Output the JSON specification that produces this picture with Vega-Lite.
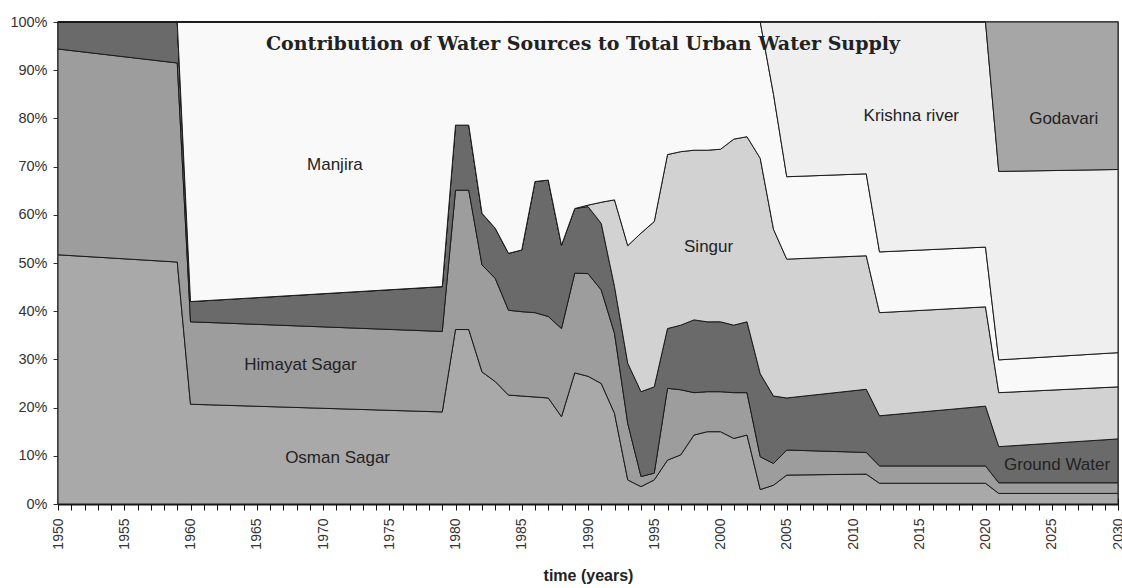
{
"$schema":"https://vega.github.io/schema/vega-lite/v6.json",
"width":1060,"height":482,
"autosize":"none",
"padding":{"left":58,"top":22,"right":4,"bottom":84},
"background":"white",
"view":{"stroke":"#333","strokeWidth":1.5},
"title":{"text":"Contribution of Water Sources to Total Urban Water Supply","font":"DejaVu Serif","fontSize":19,"fontWeight":"bold","color":"#222","anchor":"middle","offset":-40,"dx":-5},
"config":{"axis":{"labelFont":"Liberation Sans","titleFont":"Liberation Sans","grid":false}},
"layer":[
{"data":{"values":[
{"t":1950,"s":"Osman Sagar","k":1,"v":51.7},{"t":1950,"s":"Himayat Sagar","k":2,"v":42.7},{"t":1950,"s":"Ground Water","k":3,"v":5.6},{"t":1950,"s":"Singur","k":4,"v":0},{"t":1950,"s":"Manjira","k":5,"v":0},{"t":1950,"s":"Krishna river","k":6,"v":0},{"t":1950,"s":"Godavari","k":7,"v":0},
{"t":1959,"s":"Osman Sagar","k":1,"v":50.2},{"t":1959,"s":"Himayat Sagar","k":2,"v":41.3},{"t":1959,"s":"Ground Water","k":3,"v":8.5},{"t":1959,"s":"Singur","k":4,"v":0},{"t":1959,"s":"Manjira","k":5,"v":0},{"t":1959,"s":"Krishna river","k":6,"v":0},{"t":1959,"s":"Godavari","k":7,"v":0},
{"t":1960,"s":"Osman Sagar","k":1,"v":20.7},{"t":1960,"s":"Himayat Sagar","k":2,"v":17.1},{"t":1960,"s":"Ground Water","k":3,"v":4.2},{"t":1960,"s":"Singur","k":4,"v":0},{"t":1960,"s":"Manjira","k":5,"v":58.0},{"t":1960,"s":"Krishna river","k":6,"v":0},{"t":1960,"s":"Godavari","k":7,"v":0},
{"t":1979,"s":"Osman Sagar","k":1,"v":19.1},{"t":1979,"s":"Himayat Sagar","k":2,"v":16.7},{"t":1979,"s":"Ground Water","k":3,"v":9.3},{"t":1979,"s":"Singur","k":4,"v":0},{"t":1979,"s":"Manjira","k":5,"v":54.9},{"t":1979,"s":"Krishna river","k":6,"v":0},{"t":1979,"s":"Godavari","k":7,"v":0},
{"t":1980,"s":"Osman Sagar","k":1,"v":36.2},{"t":1980,"s":"Himayat Sagar","k":2,"v":28.9},{"t":1980,"s":"Ground Water","k":3,"v":13.5},{"t":1980,"s":"Singur","k":4,"v":0},{"t":1980,"s":"Manjira","k":5,"v":21.4},{"t":1980,"s":"Krishna river","k":6,"v":0},{"t":1980,"s":"Godavari","k":7,"v":0},
{"t":1981,"s":"Osman Sagar","k":1,"v":36.2},{"t":1981,"s":"Himayat Sagar","k":2,"v":28.9},{"t":1981,"s":"Ground Water","k":3,"v":13.5},{"t":1981,"s":"Singur","k":4,"v":0},{"t":1981,"s":"Manjira","k":5,"v":21.4},{"t":1981,"s":"Krishna river","k":6,"v":0},{"t":1981,"s":"Godavari","k":7,"v":0},
{"t":1982,"s":"Osman Sagar","k":1,"v":27.4},{"t":1982,"s":"Himayat Sagar","k":2,"v":22.2},{"t":1982,"s":"Ground Water","k":3,"v":10.7},{"t":1982,"s":"Singur","k":4,"v":0},{"t":1982,"s":"Manjira","k":5,"v":39.7},{"t":1982,"s":"Krishna river","k":6,"v":0},{"t":1982,"s":"Godavari","k":7,"v":0},
{"t":1983,"s":"Osman Sagar","k":1,"v":25.4},{"t":1983,"s":"Himayat Sagar","k":2,"v":21.4},{"t":1983,"s":"Ground Water","k":3,"v":10.4},{"t":1983,"s":"Singur","k":4,"v":0},{"t":1983,"s":"Manjira","k":5,"v":42.8},{"t":1983,"s":"Krishna river","k":6,"v":0},{"t":1983,"s":"Godavari","k":7,"v":0},
{"t":1984,"s":"Osman Sagar","k":1,"v":22.6},{"t":1984,"s":"Himayat Sagar","k":2,"v":17.6},{"t":1984,"s":"Ground Water","k":3,"v":11.8},{"t":1984,"s":"Singur","k":4,"v":0},{"t":1984,"s":"Manjira","k":5,"v":48.0},{"t":1984,"s":"Krishna river","k":6,"v":0},{"t":1984,"s":"Godavari","k":7,"v":0},
{"t":1985,"s":"Osman Sagar","k":1,"v":22.4},{"t":1985,"s":"Himayat Sagar","k":2,"v":17.5},{"t":1985,"s":"Ground Water","k":3,"v":12.8},{"t":1985,"s":"Singur","k":4,"v":0},{"t":1985,"s":"Manjira","k":5,"v":47.3},{"t":1985,"s":"Krishna river","k":6,"v":0},{"t":1985,"s":"Godavari","k":7,"v":0},
{"t":1986,"s":"Osman Sagar","k":1,"v":22.2},{"t":1986,"s":"Himayat Sagar","k":2,"v":17.5},{"t":1986,"s":"Ground Water","k":3,"v":27.2},{"t":1986,"s":"Singur","k":4,"v":0},{"t":1986,"s":"Manjira","k":5,"v":33.1},{"t":1986,"s":"Krishna river","k":6,"v":0},{"t":1986,"s":"Godavari","k":7,"v":0},
{"t":1987,"s":"Osman Sagar","k":1,"v":22.0},{"t":1987,"s":"Himayat Sagar","k":2,"v":16.9},{"t":1987,"s":"Ground Water","k":3,"v":28.3},{"t":1987,"s":"Singur","k":4,"v":0},{"t":1987,"s":"Manjira","k":5,"v":32.8},{"t":1987,"s":"Krishna river","k":6,"v":0},{"t":1987,"s":"Godavari","k":7,"v":0},
{"t":1988,"s":"Osman Sagar","k":1,"v":18.1},{"t":1988,"s":"Himayat Sagar","k":2,"v":18.3},{"t":1988,"s":"Ground Water","k":3,"v":17.3},{"t":1988,"s":"Singur","k":4,"v":0},{"t":1988,"s":"Manjira","k":5,"v":46.3},{"t":1988,"s":"Krishna river","k":6,"v":0},{"t":1988,"s":"Godavari","k":7,"v":0},
{"t":1989,"s":"Osman Sagar","k":1,"v":27.2},{"t":1989,"s":"Himayat Sagar","k":2,"v":20.7},{"t":1989,"s":"Ground Water","k":3,"v":13.4},{"t":1989,"s":"Singur","k":4,"v":0},{"t":1989,"s":"Manjira","k":5,"v":38.7},{"t":1989,"s":"Krishna river","k":6,"v":0},{"t":1989,"s":"Godavari","k":7,"v":0},
{"t":1990,"s":"Osman Sagar","k":1,"v":26.5},{"t":1990,"s":"Himayat Sagar","k":2,"v":21.3},{"t":1990,"s":"Ground Water","k":3,"v":13.9},{"t":1990,"s":"Singur","k":4,"v":0.3},{"t":1990,"s":"Manjira","k":5,"v":38.0},{"t":1990,"s":"Krishna river","k":6,"v":0},{"t":1990,"s":"Godavari","k":7,"v":0},
{"t":1991,"s":"Osman Sagar","k":1,"v":25.0},{"t":1991,"s":"Himayat Sagar","k":2,"v":19.4},{"t":1991,"s":"Ground Water","k":3,"v":13.8},{"t":1991,"s":"Singur","k":4,"v":4.4},{"t":1991,"s":"Manjira","k":5,"v":37.4},{"t":1991,"s":"Krishna river","k":6,"v":0},{"t":1991,"s":"Godavari","k":7,"v":0},
{"t":1992,"s":"Osman Sagar","k":1,"v":18.8},{"t":1992,"s":"Himayat Sagar","k":2,"v":16.6},{"t":1992,"s":"Ground Water","k":3,"v":9.7},{"t":1992,"s":"Singur","k":4,"v":18.0},{"t":1992,"s":"Manjira","k":5,"v":36.9},{"t":1992,"s":"Krishna river","k":6,"v":0},{"t":1992,"s":"Godavari","k":7,"v":0},
{"t":1993,"s":"Osman Sagar","k":1,"v":5.0},{"t":1993,"s":"Himayat Sagar","k":2,"v":11.7},{"t":1993,"s":"Ground Water","k":3,"v":12.5},{"t":1993,"s":"Singur","k":4,"v":24.4},{"t":1993,"s":"Manjira","k":5,"v":46.4},{"t":1993,"s":"Krishna river","k":6,"v":0},{"t":1993,"s":"Godavari","k":7,"v":0},
{"t":1994,"s":"Osman Sagar","k":1,"v":3.6},{"t":1994,"s":"Himayat Sagar","k":2,"v":2.1},{"t":1994,"s":"Ground Water","k":3,"v":17.6},{"t":1994,"s":"Singur","k":4,"v":32.9},{"t":1994,"s":"Manjira","k":5,"v":43.8},{"t":1994,"s":"Krishna river","k":6,"v":0},{"t":1994,"s":"Godavari","k":7,"v":0},
{"t":1995,"s":"Osman Sagar","k":1,"v":5.0},{"t":1995,"s":"Himayat Sagar","k":2,"v":1.4},{"t":1995,"s":"Ground Water","k":3,"v":17.9},{"t":1995,"s":"Singur","k":4,"v":34.3},{"t":1995,"s":"Manjira","k":5,"v":41.4},{"t":1995,"s":"Krishna river","k":6,"v":0},{"t":1995,"s":"Godavari","k":7,"v":0},
{"t":1996,"s":"Osman Sagar","k":1,"v":9.1},{"t":1996,"s":"Himayat Sagar","k":2,"v":14.9},{"t":1996,"s":"Ground Water","k":3,"v":12.4},{"t":1996,"s":"Singur","k":4,"v":36.1},{"t":1996,"s":"Manjira","k":5,"v":27.5},{"t":1996,"s":"Krishna river","k":6,"v":0},{"t":1996,"s":"Godavari","k":7,"v":0},
{"t":1997,"s":"Osman Sagar","k":1,"v":10.2},{"t":1997,"s":"Himayat Sagar","k":2,"v":13.5},{"t":1997,"s":"Ground Water","k":3,"v":13.4},{"t":1997,"s":"Singur","k":4,"v":36.0},{"t":1997,"s":"Manjira","k":5,"v":26.9},{"t":1997,"s":"Krishna river","k":6,"v":0},{"t":1997,"s":"Godavari","k":7,"v":0},
{"t":1998,"s":"Osman Sagar","k":1,"v":14.3},{"t":1998,"s":"Himayat Sagar","k":2,"v":8.8},{"t":1998,"s":"Ground Water","k":3,"v":15.1},{"t":1998,"s":"Singur","k":4,"v":35.2},{"t":1998,"s":"Manjira","k":5,"v":26.6},{"t":1998,"s":"Krishna river","k":6,"v":0},{"t":1998,"s":"Godavari","k":7,"v":0},
{"t":1999,"s":"Osman Sagar","k":1,"v":15.0},{"t":1999,"s":"Himayat Sagar","k":2,"v":8.3},{"t":1999,"s":"Ground Water","k":3,"v":14.5},{"t":1999,"s":"Singur","k":4,"v":35.6},{"t":1999,"s":"Manjira","k":5,"v":26.6},{"t":1999,"s":"Krishna river","k":6,"v":0},{"t":1999,"s":"Godavari","k":7,"v":0},
{"t":2000,"s":"Osman Sagar","k":1,"v":15.0},{"t":2000,"s":"Himayat Sagar","k":2,"v":8.3},{"t":2000,"s":"Ground Water","k":3,"v":14.5},{"t":2000,"s":"Singur","k":4,"v":35.8},{"t":2000,"s":"Manjira","k":5,"v":26.4},{"t":2000,"s":"Krishna river","k":6,"v":0},{"t":2000,"s":"Godavari","k":7,"v":0},
{"t":2001,"s":"Osman Sagar","k":1,"v":13.6},{"t":2001,"s":"Himayat Sagar","k":2,"v":9.5},{"t":2001,"s":"Ground Water","k":3,"v":14.0},{"t":2001,"s":"Singur","k":4,"v":38.6},{"t":2001,"s":"Manjira","k":5,"v":24.3},{"t":2001,"s":"Krishna river","k":6,"v":0},{"t":2001,"s":"Godavari","k":7,"v":0},
{"t":2002,"s":"Osman Sagar","k":1,"v":14.3},{"t":2002,"s":"Himayat Sagar","k":2,"v":8.8},{"t":2002,"s":"Ground Water","k":3,"v":14.7},{"t":2002,"s":"Singur","k":4,"v":38.4},{"t":2002,"s":"Manjira","k":5,"v":23.8},{"t":2002,"s":"Krishna river","k":6,"v":0},{"t":2002,"s":"Godavari","k":7,"v":0},
{"t":2003,"s":"Osman Sagar","k":1,"v":3.0},{"t":2003,"s":"Himayat Sagar","k":2,"v":6.8},{"t":2003,"s":"Ground Water","k":3,"v":17.2},{"t":2003,"s":"Singur","k":4,"v":44.7},{"t":2003,"s":"Manjira","k":5,"v":28.3},{"t":2003,"s":"Krishna river","k":6,"v":0},{"t":2003,"s":"Godavari","k":7,"v":0},
{"t":2004,"s":"Osman Sagar","k":1,"v":3.9},{"t":2004,"s":"Himayat Sagar","k":2,"v":4.5},{"t":2004,"s":"Ground Water","k":3,"v":14.0},{"t":2004,"s":"Singur","k":4,"v":34.6},{"t":2004,"s":"Manjira","k":5,"v":28.0},{"t":2004,"s":"Krishna river","k":6,"v":15.0},{"t":2004,"s":"Godavari","k":7,"v":0},
{"t":2005,"s":"Osman Sagar","k":1,"v":6.0},{"t":2005,"s":"Himayat Sagar","k":2,"v":5.2},{"t":2005,"s":"Ground Water","k":3,"v":10.8},{"t":2005,"s":"Singur","k":4,"v":28.8},{"t":2005,"s":"Manjira","k":5,"v":17.1},{"t":2005,"s":"Krishna river","k":6,"v":32.1},{"t":2005,"s":"Godavari","k":7,"v":0},
{"t":2011,"s":"Osman Sagar","k":1,"v":6.2},{"t":2011,"s":"Himayat Sagar","k":2,"v":4.5},{"t":2011,"s":"Ground Water","k":3,"v":13.1},{"t":2011,"s":"Singur","k":4,"v":27.7},{"t":2011,"s":"Manjira","k":5,"v":17.0},{"t":2011,"s":"Krishna river","k":6,"v":31.5},{"t":2011,"s":"Godavari","k":7,"v":0},
{"t":2012,"s":"Osman Sagar","k":1,"v":4.3},{"t":2012,"s":"Himayat Sagar","k":2,"v":3.6},{"t":2012,"s":"Ground Water","k":3,"v":10.4},{"t":2012,"s":"Singur","k":4,"v":21.4},{"t":2012,"s":"Manjira","k":5,"v":12.6},{"t":2012,"s":"Krishna river","k":6,"v":47.7},{"t":2012,"s":"Godavari","k":7,"v":0},
{"t":2020,"s":"Osman Sagar","k":1,"v":4.3},{"t":2020,"s":"Himayat Sagar","k":2,"v":3.6},{"t":2020,"s":"Ground Water","k":3,"v":12.4},{"t":2020,"s":"Singur","k":4,"v":20.6},{"t":2020,"s":"Manjira","k":5,"v":12.4},{"t":2020,"s":"Krishna river","k":6,"v":46.7},{"t":2020,"s":"Godavari","k":7,"v":0},
{"t":2021,"s":"Osman Sagar","k":1,"v":2.2},{"t":2021,"s":"Himayat Sagar","k":2,"v":2.2},{"t":2021,"s":"Ground Water","k":3,"v":7.5},{"t":2021,"s":"Singur","k":4,"v":11.2},{"t":2021,"s":"Manjira","k":5,"v":6.8},{"t":2021,"s":"Krishna river","k":6,"v":39.1},{"t":2021,"s":"Godavari","k":7,"v":31.0},
{"t":2030,"s":"Osman Sagar","k":1,"v":2.2},{"t":2030,"s":"Himayat Sagar","k":2,"v":2.2},{"t":2030,"s":"Ground Water","k":3,"v":9.1},{"t":2030,"s":"Singur","k":4,"v":10.8},{"t":2030,"s":"Manjira","k":5,"v":7.1},{"t":2030,"s":"Krishna river","k":6,"v":38.0},{"t":2030,"s":"Godavari","k":7,"v":30.6}
]},
"mark":{"type":"area","stroke":"#1a1a1a","strokeWidth":1,"strokeJoin":"round"},
"encoding":{
"x":{"field":"t","type":"quantitative","scale":{"domain":[1950,2030],"nice":false,"zero":false},
"axis":{"title":"time (years)","titleFontSize":16,"titleFontWeight":"bold","titleColor":"#222","titlePadding":18,
"values":[1950,1951,1952,1953,1954,1955,1956,1957,1958,1959,1960,1961,1962,1963,1964,1965,1966,1967,1968,1969,1970,1971,1972,1973,1974,1975,1976,1977,1978,1979,1980,1981,1982,1983,1984,1985,1986,1987,1988,1989,1990,1991,1992,1993,1994,1995,1996,1997,1998,1999,2000,2001,2002,2003,2004,2005,2006,2007,2008,2009,2010,2011,2012,2013,2014,2015,2016,2017,2018,2019,2020,2021,2022,2023,2024,2025,2026,2027,2028,2029,2030],
"format":"d","labelExpr":"datum.value % 5 === 0 ? datum.label : ''","labelAngle":270,"labelFontSize":14,"labelColor":"#333","labelPadding":8,"labelOverlap":false,"labelFlush":false,
"tickSize":6,"tickColor":"#111","domainColor":"#111","domainWidth":2}},
"y":{"field":"v","type":"quantitative","stack":"normalize","scale":{"domain":[0,1]},
"axis":{"title":null,"values":[0,0.1,0.2,0.3,0.4,0.5,0.6,0.7,0.8,0.9,1],"format":".0%","labelFontSize":14.5,"labelColor":"#333","labelPadding":6,"tickSize":5,"tickColor":"#333","domain":false}},
"color":{"field":"s","type":"nominal","scale":{"domain":["Osman Sagar","Himayat Sagar","Ground Water","Singur","Manjira","Krishna river","Godavari"],"range":["#a9a9a9","#9d9d9d","#6a6a6a","#d2d2d2","#f9f9f9","#efefef","#a6a6a6"]},"legend":null},
"order":{"field":"k","type":"quantitative"}
}},
{"data":{"values":[
{"t":1970.9,"p":0.703,"label":"Manjira"},
{"t":1968.3,"p":0.288,"label":"Himayat Sagar"},
{"t":1971.1,"p":0.095,"label":"Osman Sagar"},
{"t":1999.1,"p":0.533,"label":"Singur"},
{"t":2014.4,"p":0.804,"label":"Krishna river"},
{"t":2025.9,"p":0.799,"label":"Godavari"},
{"t":2025.4,"p":0.081,"label":"Ground Water"}
]},
"mark":{"type":"text","font":"Liberation Sans","fontSize":17,"color":"#222"},
"encoding":{
"x":{"field":"t","type":"quantitative","axis":{"orient":"bottom","offset":-6,"tickSize":6,"tickColor":"#111","labels":false,"domain":false,"title":null,"grid":false,
"values":[1950,1951,1952,1953,1954,1955,1956,1957,1958,1959,1960,1961,1962,1963,1964,1965,1966,1967,1968,1969,1970,1971,1972,1973,1974,1975,1976,1977,1978,1979,1980,1981,1982,1983,1984,1985,1986,1987,1988,1989,1990,1991,1992,1993,1994,1995,1996,1997,1998,1999,2000,2001,2002,2003,2004,2005,2006,2007,2008,2009,2010,2011,2012,2013,2014,2015,2016,2017,2018,2019,2020,2021,2022,2023,2024,2025,2026,2027,2028,2029,2030]}},
"y":{"field":"p","type":"quantitative"},
"text":{"field":"label"}
}}
],
"resolve":{"axis":{"x":"independent"}}
}
